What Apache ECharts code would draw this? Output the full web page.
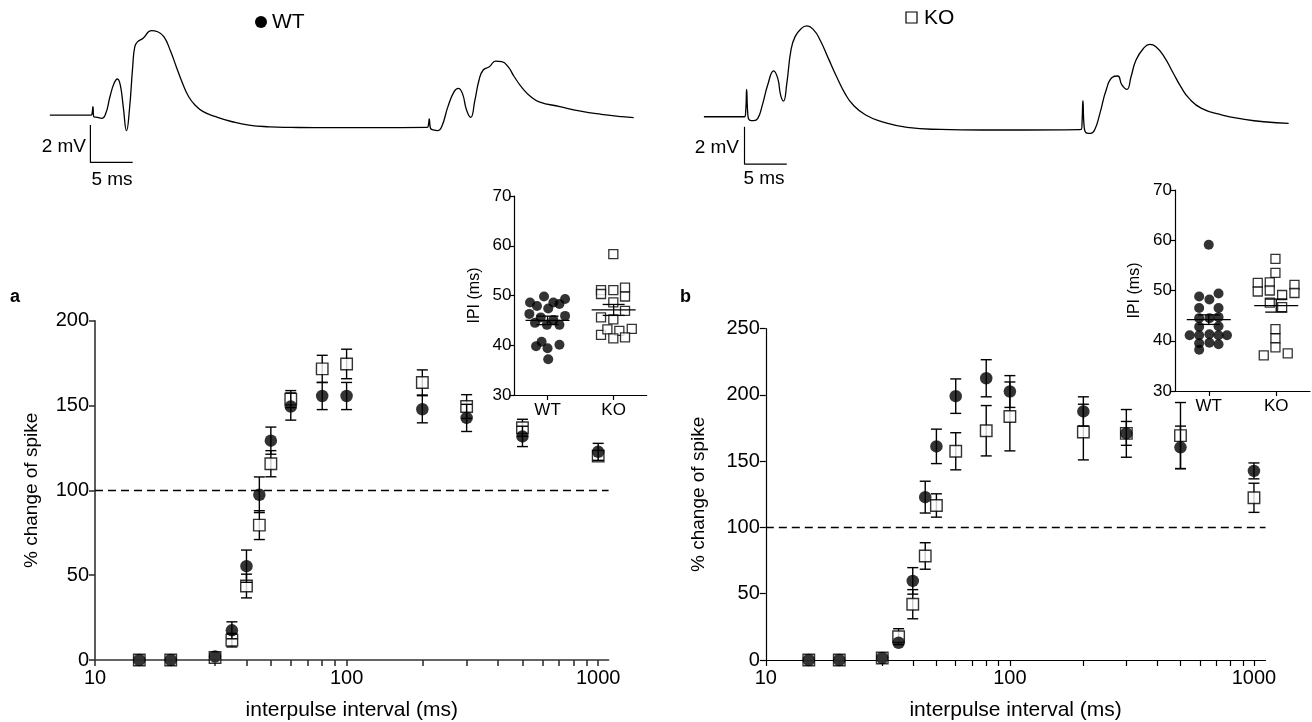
<!DOCTYPE html>
<html><head><meta charset="utf-8">
<script src="https://cdn.jsdelivr.net/npm/echarts@6/dist/echarts.min.js"></script>
<style>html,body{margin:0;padding:0;background:#fff}#c{width:1312px;height:722px}</style>
</head><body><div id="c"></div>
<script>
const FONT = '"Liberation Sans", Arial, Helvetica, sans-serif';

// ---- main plots: interpulse interval (ms) ----
const intervals = [15, 20, 30, 35, 40, 45, 50, 60, 80, 100, 200, 300, 500, 1000];
const xTickValues = [10,20,30,40,50,60,70,80,90,100,200,300,400,500,600,700,800,900,1000];
const xLabelValues = [10, 100, 1000];

const aWT    = [0, 0, 2, 17.5, 55.3, 97.4, 129.3, 149.4, 155.6, 155.6, 147.8, 142.7, 131.8, 122.7];
const aWTsem = [0, 0, 0, 5, 9.5, 10.5, 8, 8, 8, 8, 8, 8, 6, 5];
const aKO    = [0, 0, 1.5, 11.7, 43.6, 79.5, 115.7, 153.8, 171.6, 174.5, 163.6, 149.4, 136.9, 120.2];
const aKOsem = [0, 0, 0, 4, 7, 8.5, 7.7, 5, 8, 8.7, 7.4, 7, 5, 3];

const bWT    = [0, 0, 1.5, 13, 59.7, 122.9, 161.2, 199.1, 212.6, 202.6, 187.6, 171, 160.5, 142.7];
const bWTsem = [0, 0, 0, 0, 10, 12, 13, 13, 14, 12, 11, 9, 16, 6];
const bKO    = [0, 0, 1.5, 17.6, 42.1, 78.5, 116.6, 157.5, 173, 183.8, 172, 171, 169.3, 122.4];
const bKOsem = [0, 0, 0, 6, 11, 10, 8.8, 14, 19, 26, 21, 18, 25, 11];

// ---- insets: IPI (ms), [group position, value] ----
const insetGroups = ['WT', 'KO'];
const insetA_WT = [[0.735,48.6],[0.84,47.9],[0.947,49.8],[1.01,47.4],[1.088,48.6],[1.18,48.3],[1.265,49.3],
  [0.725,46.3],[0.81,44.5],[0.897,45.6],[0.99,44.1],[1.088,45.1],[1.18,44.1],[1.265,45.9],
  [0.826,39.8],[0.91,40.7],[1.0,39.4],[1.18,40.1],[1.01,37.2]];
const insetA_KO = [[1.995,58.3],[1.809,51.1],[1.995,51.1],[2.172,51.6],[1.809,50.3],[2.172,49.8],[1.995,48.6],
  [2.172,46.9],[1.809,45.6],[1.995,45.2],[1.809,42.1],[1.905,43.2],[2.086,42.9],[2.274,43.3],[1.995,41.4],[2.172,41.6]];
const insetB_WT = [[1.0,59.1],[0.858,48.8],[1.01,48.2],[1.145,49.4],[0.858,46.5],[1.145,46.5],
  [0.858,44.5],[1.01,44.5],[1.145,44.7],[0.858,42.8],[1.145,42.9],
  [0.717,41.1],[0.858,41.1],[1.01,41.3],[1.145,41.1],[1.27,41.1],
  [0.858,39.5],[1.01,39.6],[1.145,39.3],[0.858,38.2]];
const insetB_KO = [[1.988,56.3],[1.988,53.5],[1.726,51.5],[1.726,49.8],[1.904,51.6],[1.904,50.0],[2.27,51.1],[2.27,49.5],
  [2.087,49.1],[1.904,47.6],[2.087,46.7],[1.988,42.3],[1.988,40.5],[1.988,38.7],[1.815,37.1],[2.170,37.5]];
const insetA_mean = [[1, 45.0, 0.85], [2, 47.1, 1.1]];   // [group, mean, sem]
const insetB_mean = [[1, 44.2, 0.95], [2, 47.0, 1.3]];

// ---- example traces: [time (ms), voltage (mV)] ----
const traceWT = [[0,0],[4.9,0],[5.0,0.09],[5.1,0.45],[5.2,-0.09],[5.64,-0.125],[6.13,-0.18],[6.62,0.09],[7.11,0.98],
  [7.6,1.7],[7.99,1.93],[8.33,1.61],[8.68,0.45],[9.07,-0.84],[9.41,0.27],[9.8,2.59],[10.05,3.66],[10.39,3.93],
  [11.03,4.11],[12.01,4.52],[12.75,4.46],[13.48,4.2],[14.22,3.48],[14.95,2.59],[15.69,1.7],[16.42,0.98],[17.16,0.54],
  [18.14,0.18],[19.61,-0.09],[21.57,-0.36],[23.53,-0.54],[25.98,-0.63],[28.43,-0.66],[33.33,-0.68],[38.24,-0.68],
  [44.61,-0.66],[44.75,-0.54],[44.85,-0.21],[45.0,-0.71],[45.34,-0.8],[45.83,-0.84],[46.32,-0.63],[47.06,0.45],
  [47.79,1.25],[48.28,1.43],[48.77,1.16],[49.26,0.27],[49.75,-0.125],[50.25,0.8],[50.74,1.875],[51.23,2.41],
  [51.96,2.59],[52.7,2.89],[53.43,2.86],[54.17,2.59],[54.9,2.05],[55.88,1.43],[56.86,0.98],[57.84,0.71],
  [60.29,0.45],[62.75,0.21],[65.2,0.04],[67.65,-0.09],[69.02,-0.14]];
const traceKO = [[0,0],[4.8,0],[4.95,0.36],[5.05,1.46],[5.2,0.09],[5.39,-0.18],[5.88,-0.21],[6.37,-0.09],[6.86,0.54],
  [7.6,1.79],[8.24,2.46],[8.73,2.05],[9.07,1.16],[9.41,0.84],[9.8,1.79],[10.29,3.57],[10.78,4.29],[11.52,4.73],
  [12.16,4.86],[12.99,4.64],[13.73,4.11],[14.71,3.125],[15.69,2.14],[16.67,1.25],[17.65,0.625],[19.12,0.09],
  [21.08,-0.27],[24.02,-0.57],[27.94,-0.68],[32.84,-0.71],[37.75,-0.71],[44.61,-0.68],[44.71,-0.18],[44.8,0.86],
  [44.95,-0.54],[45.2,-0.86],[45.69,-0.89],[46.18,-0.71],[46.81,0.18],[47.55,1.43],[48.28,2.11],[48.92,2.18],
  [49.41,1.7],[50.0,1.46],[50.49,2.14],[51.08,3.04],[51.96,3.66],[52.7,3.875],[53.43,3.75],[54.41,3.21],
  [55.39,2.41],[56.37,1.61],[57.35,0.98],[58.82,0.45],[61.27,0.09],[63.73,-0.125],[66.18,-0.27],[69.12,-0.36]];
const scaleBar = [[4.8,-0.54],[4.8,-2.54],[9.8,-2.54]]; // 2 mV x 5 ms

// ---------- helpers ----------
const blk = '#000';
function zip(xs, ys) { return xs.map((x, i) => [x, ys[i]]); }
function errSeries(xi, yi, ys, sems, cap, z) {
  const data = [];
  intervals.forEach((x, i) => { if (sems[i] > 0) data.push([x, ys[i] - sems[i], ys[i] + sems[i]]); });
  return {
    type: 'custom', xAxisIndex: xi, yAxisIndex: yi, z: z, silent: true, clip: false,
    encode: { x: 0, y: [1, 2] }, data: data,
    renderItem: function (p, api) {
      const lo = api.coord([api.value(0), api.value(1)]);
      const hi = api.coord([api.value(0), api.value(2)]);
      const st = { stroke: blk, lineWidth: 1.4 };
      const x = lo[0];
      return { type: 'group', children: [
        { type: 'line', shape: { x1: x, y1: lo[1], x2: x, y2: hi[1] }, style: st },
        { type: 'line', shape: { x1: x - cap, y1: lo[1], x2: x + cap, y2: lo[1] }, style: st },
        { type: 'line', shape: { x1: x - cap, y1: hi[1], x2: x + cap, y2: hi[1] }, style: st }
      ]};
    }
  };
}
function meanSeries(xi, yi, data) {
  return {
    type: 'custom', xAxisIndex: xi, yAxisIndex: yi, z: 6, silent: true, clip: false,
    encode: { x: 0, y: 1 }, data: data,
    renderItem: function (p, api) {
      const c = api.coord([api.value(0), api.value(1)]);
      const t = api.coord([api.value(0), api.value(1) + api.value(2)]);
      const b = api.coord([api.value(0), api.value(1) - api.value(2)]);
      const st = { stroke: blk, lineWidth: 1.3 };
      return { type: 'group', children: [
        { type: 'line', shape: { x1: c[0] - 22, y1: c[1], x2: c[0] + 22, y2: c[1] }, style: st },
        { type: 'line', shape: { x1: c[0], y1: t[1], x2: c[0], y2: b[1] }, style: st },
        { type: 'line', shape: { x1: c[0] - 11, y1: t[1], x2: c[0] + 11, y2: t[1] }, style: st },
        { type: 'line', shape: { x1: c[0] - 11, y1: b[1], x2: c[0] + 11, y2: b[1] }, style: st }
      ]};
    }
  };
}
function mainX(gi, max, col, w) {
  return {
    type: 'log', logBase: 10, gridIndex: gi, min: 10, max: max,
    name: 'interpulse interval (ms)', nameLocation: 'middle', nameGap: 40,
    nameTextStyle: { fontFamily: FONT, fontSize: 21, color: blk },
    axisLine: { lineStyle: { color: col, width: w } },
    axisTick: { customValues: xTickValues, length: 6, lineStyle: { color: col, width: w } },
    axisLabel: { customValues: xLabelValues, fontFamily: FONT, fontSize: 20, color: blk, margin: 8,
      formatter: v => String(Math.round(v)) },
    splitLine: { show: false }, minorTick: { show: false }
  };
}
function mainY(gi, max, col, w, gap) {
  return {
    type: 'value', gridIndex: gi, min: 0, max: max, interval: 50,
    name: '% change of spike', nameLocation: 'middle', nameGap: gap, nameRotate: 90,
    nameTextStyle: { fontFamily: FONT, fontSize: 19, color: blk },
    axisLine: { show: true, lineStyle: { color: col, width: w } },
    axisTick: { show: true, length: 6, lineStyle: { color: col, width: w } },
    axisLabel: { fontFamily: FONT, fontSize: 20, color: blk, margin: 6 },
    splitLine: { show: false }
  };
}
function insetX(gi) {
  return {
    type: 'value', gridIndex: gi, min: 0.5, max: 2.5,
    axisLine: { lineStyle: { color: blk, width: 1.2 } },
    axisTick: { customValues: [1, 2], length: 5, lineStyle: { color: blk, width: 1.2 } },
    axisLabel: { customValues: [1, 2], fontFamily: FONT, fontSize: 17, color: blk, margin: 7,
      formatter: v => insetGroups[Math.round(v) - 1] },
    splitLine: { show: false }
  };
}
function insetY(gi) {
  return {
    type: 'value', gridIndex: gi, min: 30, max: 70, interval: 10,
    name: 'IPI (ms)', nameLocation: 'middle', nameGap: 32, nameRotate: 90,
    nameTextStyle: { fontFamily: FONT, fontSize: 16, color: blk },
    axisLine: { show: true, lineStyle: { color: blk, width: 1.2 } },
    axisTick: { show: true, length: 5, lineStyle: { color: blk, width: 1.2 } },
    axisLabel: { fontFamily: FONT, fontSize: 17, color: blk, margin: 3 },
    splitLine: { show: false }
  };
}
function hiddenAxis(gi, min, max) {
  return { type: 'value', gridIndex: gi, min: min, max: max, show: false, splitLine: { show: false } };
}
const dashLine = {
  silent: true, symbol: 'none', label: { show: false },
  lineStyle: { color: blk, type: [8, 5], width: 1.3 }, data: [{ yAxis: 100 }]
};
const wtSym = { symbol: 'circle', itemStyle: { color: blk } };
const koSym = { symbol: 'rect', itemStyle: { color: '#fff', borderColor: blk, borderWidth: 1.4 } };
const koSmall = { symbol: 'rect', itemStyle: { color: '#fff', borderColor: blk, borderWidth: 1.3 } };

const option = {
  animation: false,
  backgroundColor: '#fff',
  textStyle: { fontFamily: FONT },
  grid: [
    { left: 95, top: 320.7, width: 513.6, height: 341 },
    { left: 765.8, top: 328.7, width: 499.7, height: 332.3 },
    { left: 514.5, top: 196, width: 132.2, height: 199 },
    { left: 1175, top: 190, width: 135, height: 201 },
    { left: 49.8, top: 21.65, width: 592.2, height: 149.4 },
    { left: 703.9, top: 23.35, width: 592.2, height: 149.4 }
  ],
  xAxis: [
    mainX(0, 1100, '#333', 1.6), mainX(1, 1115, blk, 1.2),
    insetX(2), insetX(3),
    hiddenAxis(4, 0, 70), hiddenAxis(5, 0, 70)
  ],
  yAxis: [
    mainY(0, 200, '#333', 1.6, 54), mainY(1, 250, blk, 1.2, 58),
    insetY(2), insetY(3),
    hiddenAxis(4, -3, 5), hiddenAxis(5, -3, 5)
  ],
  series: [
    // panel a
    errSeries(0, 0, aKO, aKOsem, 5.5, 3),
    Object.assign({ type: 'scatter', xAxisIndex: 0, yAxisIndex: 0, symbolSize: 11.5, z: 3, clip: false,
      data: zip(intervals, aKO), markLine: dashLine }, koSym),
    errSeries(0, 0, aWT, aWTsem, 5.5, 4),
    Object.assign({ type: 'scatter', xAxisIndex: 0, yAxisIndex: 0, symbolSize: 12.5, z: 4, clip: false,
      data: zip(intervals, aWT) }, wtSym),
    // panel b
    errSeries(1, 1, bKO, bKOsem, 5.5, 3),
    Object.assign({ type: 'scatter', xAxisIndex: 1, yAxisIndex: 1, symbolSize: 11.5, z: 3, clip: false,
      data: zip(intervals, bKO), markLine: dashLine }, koSym),
    errSeries(1, 1, bWT, bWTsem, 5.5, 4),
    Object.assign({ type: 'scatter', xAxisIndex: 1, yAxisIndex: 1, symbolSize: 12.5, z: 4, clip: false,
      data: zip(intervals, bWT) }, wtSym),
    // insets
    Object.assign({ type: 'scatter', xAxisIndex: 2, yAxisIndex: 2, symbolSize: 10, z: 5, data: insetA_WT }, wtSym),
    Object.assign({ type: 'scatter', xAxisIndex: 2, yAxisIndex: 2, symbolSize: 9, z: 5, data: insetA_KO }, koSmall),
    meanSeries(2, 2, insetA_mean),
    Object.assign({ type: 'scatter', xAxisIndex: 3, yAxisIndex: 3, symbolSize: 10, z: 5, data: insetB_WT }, wtSym),
    Object.assign({ type: 'scatter', xAxisIndex: 3, yAxisIndex: 3, symbolSize: 9, z: 5, data: insetB_KO }, koSmall),
    meanSeries(3, 3, insetB_mean),
    // traces
    { type: 'line', xAxisIndex: 4, yAxisIndex: 4, data: traceWT, showSymbol: false, smooth: 0.5,
      lineStyle: { color: blk, width: 1.3 }, silent: true },
    { type: 'line', xAxisIndex: 5, yAxisIndex: 5, data: traceKO, showSymbol: false, smooth: 0.5,
      lineStyle: { color: blk, width: 1.3 }, silent: true },
    { type: 'line', xAxisIndex: 4, yAxisIndex: 4, data: scaleBar, showSymbol: false,
      lineStyle: { color: blk, width: 1.2 }, silent: true },
    { type: 'line', xAxisIndex: 5, yAxisIndex: 5, data: scaleBar, showSymbol: false,
      lineStyle: { color: blk, width: 1.2 }, silent: true }
  ],
  graphic: [
    { type: 'circle', shape: { cx: 261, cy: 22, r: 6 }, style: { fill: blk } },
    { type: 'text', x: 272, y: 22, style: { text: 'WT', font: '21px ' + FONT, fill: blk, verticalAlign: 'middle' } },
    { type: 'rect', shape: { x: 906, y: 12, width: 11, height: 11 }, style: { fill: '#fff', stroke: blk, lineWidth: 1.2 } },
    { type: 'text', x: 924, y: 18, style: { text: 'KO', font: '21px ' + FONT, fill: blk, verticalAlign: 'middle' } },
    { type: 'text', x: 86, y: 147, style: { text: '2 mV', font: '19px ' + FONT, fill: blk, align: 'right', verticalAlign: 'middle' } },
    { type: 'text', x: 112, y: 180, style: { text: '5 ms', font: '19px ' + FONT, fill: blk, align: 'center', verticalAlign: 'middle' } },
    { type: 'text', x: 739, y: 148, style: { text: '2 mV', font: '19px ' + FONT, fill: blk, align: 'right', verticalAlign: 'middle' } },
    { type: 'text', x: 764, y: 179, style: { text: '5 ms', font: '19px ' + FONT, fill: blk, align: 'center', verticalAlign: 'middle' } },
    { type: 'text', x: 10, y: 297, style: { text: 'a', font: 'bold 18px ' + FONT, fill: blk, verticalAlign: 'middle' } },
    { type: 'text', x: 680, y: 297, style: { text: 'b', font: 'bold 18px ' + FONT, fill: blk, verticalAlign: 'middle' } }
  ]
};
const chart = echarts.init(document.getElementById('c'), null, { renderer: 'canvas' });
chart.setOption(option);
</script></body></html>
